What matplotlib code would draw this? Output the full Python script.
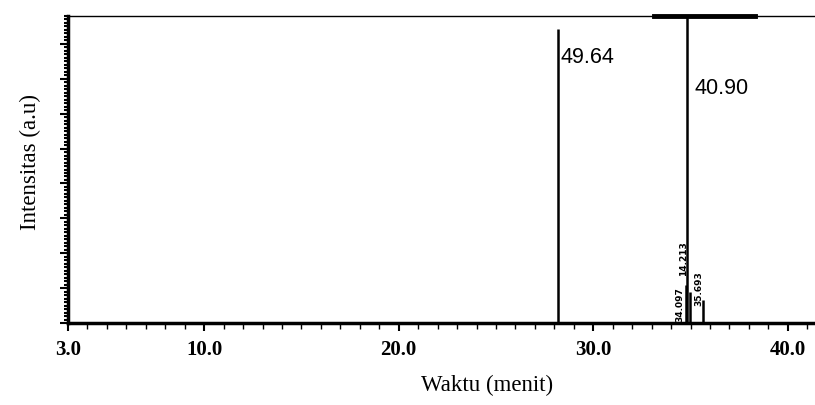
import matplotlib.pyplot as plt
import numpy as np
from matplotlib.ticker import MultipleLocator, FixedLocator

# peak retention times (menit) and heights (a.u.)
rt = [28.2, 34.83, 34.76, 34.95, 35.65]
height = [8.43, 9.5, 1.1, 0.9, 0.66]
area_labels = ["49.64", "40.90"]
small_labels = ["14.213", "34.097", "35.693"]
xticks = [3.0, 10.0, 20.0, 30.0, 40.0]

fig = plt.figure(figsize=(8.15, 4.05), dpi=100)
ax = fig.add_axes([68 / 815, 82 / 405, 1 - 68 / 815, (323 - 16) / 405])

ax.vlines(rt, 0, height, colors="black", linewidth=1.8)
ax.set_xlim(3.0, 41.4)
ax.set_ylim(0, 8.8)

# area percentage labels next to the two main peaks
ax.text(rt[0] + 0.1, 7.45, area_labels[0], fontsize=15.5, family="Liberation Sans")
ax.text(rt[1] + 0.35, 6.55, area_labels[1], fontsize=15.5, family="Liberation Sans")

# small vertical retention-time labels
ax.text(34.4, 1.35, small_labels[0], fontsize=6.5, rotation=90, fontweight="bold",
        ha="left", va="bottom")
ax.text(34.2, 0.02, small_labels[1], fontsize=6.5, rotation=90, fontweight="bold",
        ha="left", va="bottom")
ax.text(35.2, 0.5, small_labels[2], fontsize=6.5, rotation=90, fontweight="bold",
        ha="left", va="bottom")

# top border: thin line plus a thick segment
ax.spines["right"].set_visible(False)
ax.spines["top"].set_linewidth(1.0)
ax.plot([33.1, 38.3], [8.8, 8.8], color="black", linewidth=3.5, clip_on=False)
ax.spines["bottom"].set_linewidth(2.5)
ax.spines["left"].set_linewidth(2.5)

ax.xaxis.set_major_locator(FixedLocator(xticks))
ax.xaxis.set_minor_locator(MultipleLocator(1.0))
ax.set_xticklabels([f"{t:.1f}" for t in xticks], family="Liberation Serif",
                   fontweight="bold", fontsize=15)
ax.tick_params(axis="x", which="major", length=6, width=1.5, pad=6)
ax.tick_params(axis="x", which="minor", length=4, width=1)

ax.yaxis.set_major_locator(MultipleLocator(1.0))
ax.yaxis.set_minor_locator(MultipleLocator(0.1))
ax.set_yticklabels([])
ax.tick_params(axis="y", which="major", length=6, width=1.5)
ax.tick_params(axis="y", which="minor", length=3, width=1.5)

ax.set_xlabel("Waktu (menit)", family="Liberation Serif", fontsize=16.5)
ax.set_ylabel("Intensitas (a.u)", family="Liberation Serif", fontsize=16.5)
ax.xaxis.set_label_coords((487 - 68) / 747, -(385 - 323) / 307, transform=ax.transAxes)
ax.yaxis.set_label_coords(-(68 - 30) / 747, (323 - 162) / 307, transform=ax.transAxes)
ax.xaxis.label.set_va("center")
ax.yaxis.label.set_va("center")

fig.savefig("out.png", dpi=100)
